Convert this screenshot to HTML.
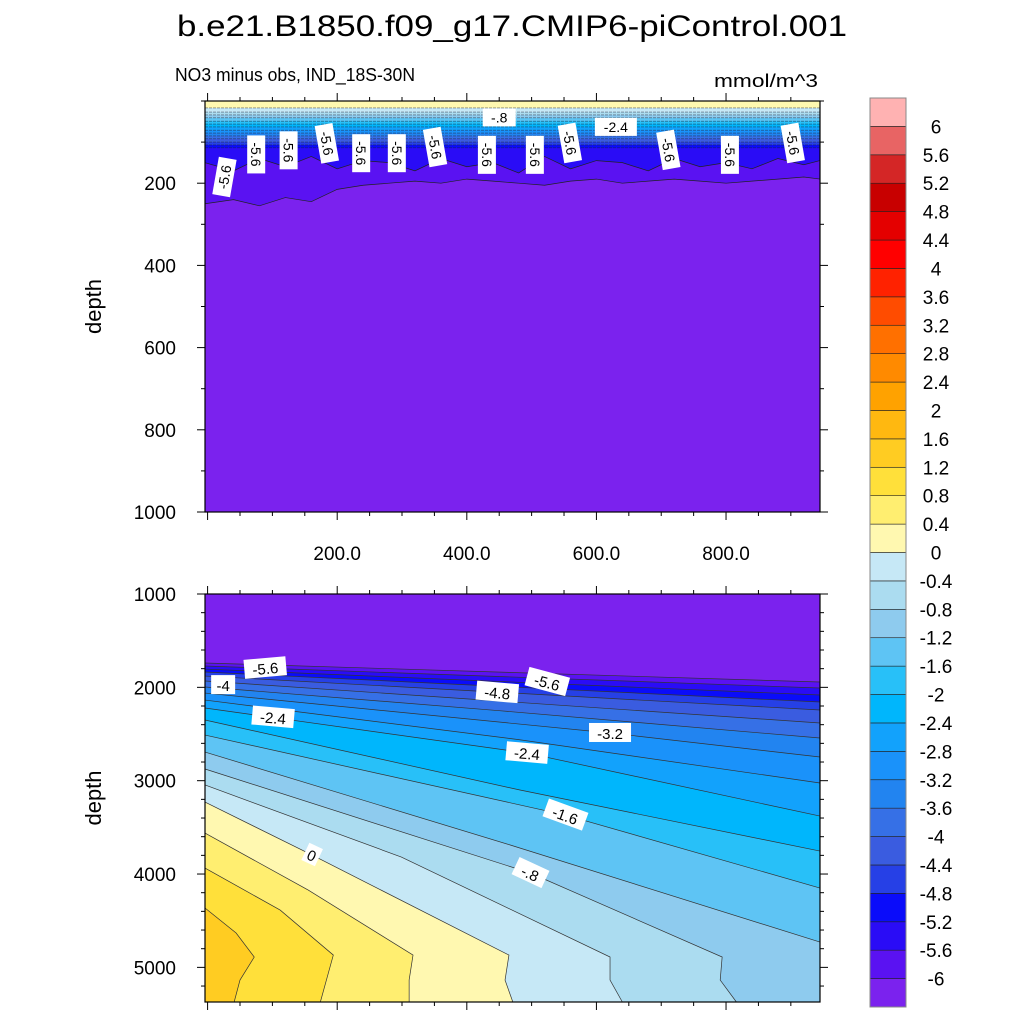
<!DOCTYPE html>
<html><head><meta charset="utf-8"><style>
html,body{margin:0;padding:0;background:#fff;}
svg{display:block;font-family:"Liberation Sans",Arial,sans-serif;}
</style></head><body>
<svg id="chart" width="1024" height="1024" viewBox="0 0 1024 1024" xmlns="http://www.w3.org/2000/svg">
<text x="512" y="36" font-size="30" text-anchor="middle" textLength="670" lengthAdjust="spacingAndGlyphs">b.e21.B1850.f09_g17.CMIP6-piControl.001</text>
<text x="175" y="81" font-size="18" textLength="240" lengthAdjust="spacingAndGlyphs">NO3 minus obs, IND_18S-30N</text>
<text x="818" y="87" font-size="18" text-anchor="end" textLength="104" lengthAdjust="spacingAndGlyphs">mmol/m^3</text>
<g id="topPanel"></g>
<g id="botPanel"></g>
<g id="cbar"></g>
</svg>
<script>
// ---- data ----
const levels = [-6,-5.6,-5.2,-4.8,-4.4,-4,-3.6,-3.2,-2.8,-2.4,-2,-1.6,-1.2,-0.8,-0.4,0,0.4,0.8,1.2,1.6,2,2.4,2.8,3.2,3.6,4,4.4,4.8,5.2,5.6,6];
const bandColors = ["#7b22ee","#5a12f2","#2a0cf6","#0a0cfa","#2640e6","#3a5ce0","#3670e6","#2284f0","#1a92fa","#12a2fc","#00b6fc","#28c0f8","#5ec4f4","#8ecbee","#abdcf0","#c6e8f6","#fff8b0","#ffee70","#ffe03a","#ffcc22","#ffb810","#ffa200","#ff8a00","#ff7000","#ff4c00","#ff2200","#ff0000","#e40000","#c80000","#d42626","#e86464","#ffb2b2"];
const botLevels = [-6,-5.6,-5.2,-4.8,-4.4,-4,-3.6,-3.2,-2.8,-2.4,-2,-1.6,-1.2,-0.8,-0.4,0,0.4,0.8,1.2];
const botLines = [
 [[-4,1739],[945,1943]],
 [[-4,1771],[945,2007]],
 [[-4,1804],[945,2082]],
 [[-4,1836],[945,2157]],
 [[-4,1879],[945,2243]],
 [[-4,1932],[945,2382]],
 [[-4,1996],[450,2250],[945,2543]],
 [[-4,2061],[621,2489],[945,2746]],
 [[-4,2136],[480,2560],[945,3025]],
 [[-4,2221],[493,2704],[945,3379]],
 [[-4,2350],[482,3100],[945,3754]],
 [[-4,2511],[552,3368],[945,4150]],
 [[-4,2693],[467,3689],[945,4729]],
 [[-4,2875],[498,3989],[794,4889],[791,5136],[816,5371]],
 [[-4,3046],[299,3818],[621,4889],[621,5136],[640,5371]],
 [[-4,3229],[161,3796],[465,4868],[459,5136],[471,5371]],
 [[-4,3561],[155,4171],[317,4868],[311,5136],[311,5371]],
 [[-4,3936],[112,4386],[194,4868],[174,5371]],
 [[-4,4364],[44,4632],[72,4889],[50,5136],[41,5371]]
];
const topLevels = [0,-0.4,-0.8,-1.2,-1.6,-2,-2.4,-2.8,-3.2,-3.6,-4,-4.4,-4.8,-5.2];
const topDepths = [17,27,34,41,49,56,63,71,78,85,92,100,107,114];
const topX = [-4,40,80,120,160,200,240,280,320,360,400,440,480,520,560,600,640,680,720,760,800,840,880,920,945];
const topD56 = [150,170,140,160,135,165,145,150,170,140,160,150,175,135,165,145,150,170,140,160,150,165,140,155,145];
const topD6 = [250,240,255,235,245,215,205,200,195,200,190,195,200,205,195,190,200,195,190,195,200,195,190,185,190];
const xTicks = [200,400,600,800];
const xTickLabels = ["200.0","400.0","600.0","800.0"];
const topYTicks = [200,400,600,800,1000];
const botYTicks = [1000,2000,3000,4000,5000];
const topLabelPos = [[26,185,-80],[75,130,90],[125,120,90],[184,103,80],[237,127,90],[292,127,90],[351,112,80],[431,131,90],[505,131,90],[559,102,80],[711,119,80],[806,131,90],[903,102,80]];
const botLabels = [["-5.6",89,1793,-5],["-4",24,1976,0],["-2.4",101,2321,5],["-4.8",447,2054,5],["-5.6",524,1943,15],["-3.2",621,2489,0],["-2.4",493,2704,5],["-1.6",552,3368,20],["-.8",498,3989,25],["0",161,3796,25]];

const NS="http://www.w3.org/2000/svg";
function mk(tag,attrs,parent){const e=document.createElementNS(NS,tag);for(const k in attrs)e.setAttribute(k,attrs[k]);parent.appendChild(e);return e;}
const X0=205,X1=820, XMIN=-4, XMAX=945;
const sx = v => X0+(v-XMIN)/(XMAX-XMIN)*(X1-X0);
const T0=101,T1=512, tY = d => T0+d/1000*(T1-T0);
const B0=594,B1=1002, BMIN=1000,BMAX=5371, bY = d => B0+(d-BMIN)/(BMAX-BMIN)*(B1-B0);
const colorAbove = lv => bandColors[levels.indexOf(lv)+1];

// ---- bottom panel ----
const botG=document.getElementById('botPanel');
let r=mk('rect',{x:X0,y:B0,width:X1-X0,height:B1-B0,fill:bandColors[0]},botG);


botLines.forEach((ln,i)=>{
  let poly=ln.map(p=>[sx(p[0]),bY(p[1])]);
  const last=ln[ln.length-1];
  if(last[0]>=XMAX) poly.push([X1,B1]);
  poly.push([X0,B1]);
  const p=mk('polygon',{points:poly.map(q=>q.join(',')).join(' '),fill:colorAbove(botLevels[i])},botG);
  
  
});
botLines.forEach((ln,i)=>{
  const l=mk('polyline',{points:ln.map(p=>sx(p[0])+','+bY(p[1])).join(' '),fill:'none',stroke:'#333',"stroke-width":0.7},botG);
  
  
});
botLabels.forEach(b=>{
  const g=mk('g',{transform:`translate(${sx(b[1])},${bY(b[2])}) rotate(${b[3]})`},botG);
  
  
  const w=b[0].length*9+6;
  mk('rect',{x:-w/2,y:-10,width:w,height:19,fill:'#fff'},g);
  const t=mk('text',{x:0,y:6,"font-size":15,"text-anchor":"middle"},g);t.textContent=b[0];
});

// ---- top panel ----
const topG=document.getElementById('topPanel');
r=mk('rect',{x:X0,y:T0,width:X1-X0,height:T1-T0,fill:bandColors[0]},topG);


function jag(arr){return topX.map((x,i)=>sx(x)+','+tY(arr[i])).join(' ');}
let pp=mk('polygon',{points:jag(topD6)+` ${X1},${T0} ${X0},${T0}`,fill:colorAbove(-6)},topG);


pp=mk('polygon',{points:jag(topD56)+` ${X1},${T0} ${X0},${T0}`,fill:colorAbove(-5.6)},topG);


for(let i=topLevels.length-1;i>=0;i--){
  const b=mk('rect',{x:X0,y:T0,width:X1-X0,height:tY(topDepths[i])-T0,fill:colorAbove(topLevels[i])},topG);
  
  
}
topDepths.forEach((d,i)=>{
  const l=mk('line',{x1:X0,x2:X1,y1:tY(d),y2:tY(d),stroke:'#223',"stroke-width":0.6,"stroke-dasharray":"3,1","opacity":0.7},topG);
  
  
});
[topD56,topD6].forEach(a=>{
  const l=mk('polyline',{points:jag(a),fill:'none',stroke:'#222',"stroke-width":0.7},topG);
  
  
});
topLabelPos.forEach(b=>{
  const g=mk('g',{transform:`translate(${sx(b[0])},${tY(b[1])}) rotate(${b[2]})`},topG);
  
  
  mk('rect',{x:-19,y:-9,width:38,height:18,fill:'#fff'},g);
  const t=mk('text',{x:0,y:5,"font-size":14,"text-anchor":"middle"},g);t.textContent="-5.6";
});
[["-.8",450,40],["-2.4",630,63]].forEach(b=>{
  const g=mk('g',{transform:`translate(${sx(b[1])},${tY(b[2])})`},topG);
  
  
  const w=b[0].length*9+6;
  mk('rect',{x:-w/2,y:-9,width:w,height:18,fill:'#fff'},g);
  const t=mk('text',{x:0,y:5,"font-size":14,"text-anchor":"middle"},g);t.textContent=b[0];
});

// ---- axes ----
function axes(g,y0,y1,yfn,ymin,ymax,yMajor,yMinor,showX,name){
  const f=mk('rect',{x:X0,y:y0,width:X1-X0,height:y1-y0,fill:'none',stroke:'#000',"stroke-width":1.2},g);
  
  
  for(let v=0;v<=XMAX;v+=50){
    const L=(v%200===0)?8:4;
    mk('line',{x1:sx(v),x2:sx(v),y1:y1,y2:y1+L,stroke:'#000'},g);
    mk('line',{x1:sx(v),x2:sx(v),y1:y0,y2:y0-L,stroke:'#000'},g);
  }
  for(let v=ymin;v<=ymax;v+=yMinor){
    const L=(yMajor.includes(v))?8:4;const yy=yfn(v);
    mk('line',{x1:X0,x2:X0-L,y1:yy,y2:yy,stroke:'#000'},g);
    mk('line',{x1:X1,x2:X1+L,y1:yy,y2:yy,stroke:'#000'},g);
  }
  yMajor.forEach(v=>{
    const t=mk('text',{x:176,y:yfn(v)+7,"font-size":19,"text-anchor":"end"},g);
    
    
    t.textContent=v;
  });
  const yt=mk('text',{x:0,y:0,"font-size":22,"text-anchor":"middle",transform:`translate(101,${(y0+y1)/2}) rotate(-90)`},g);
  
  
  yt.textContent='depth';
  if(showX) xTicks.forEach((v,i)=>{
    const t=mk('text',{x:sx(v),y:560,"font-size":19,"text-anchor":"middle"},g);
    
    
    t.textContent=xTickLabels[i];
  });
}
axes(topG,T0,T1,tY,0,1000,topYTicks,100,true,'top');
axes(botG,B0,B1,bY,1000,5300,botYTicks,200,false,'bottom');

// ---- colorbar ----
const cbG=document.getElementById('cbar');
const CX=870,CW=36,CT=98,CB=1007,n=bandColors.length,h=(CB-CT)/n;
for(let i=0;i<n;i++){
  const rr=mk('rect',{x:CX,y:CB-(i+1)*h,width:CW,height:h,fill:bandColors[i],stroke:'#222',"stroke-width":0.6},cbG);
  
  
}
mk('rect',{x:CX,y:CT,width:CW,height:CB-CT,fill:'none',stroke:'#888',"stroke-width":1},cbG);
levels.forEach((v,i)=>{
  const t=mk('text',{x:936,y:CB-(i+1)*h+7,"font-size":19,"text-anchor":"middle"},cbG);
  
  
  t.textContent=String(v);
});
</script>
</body></html>
